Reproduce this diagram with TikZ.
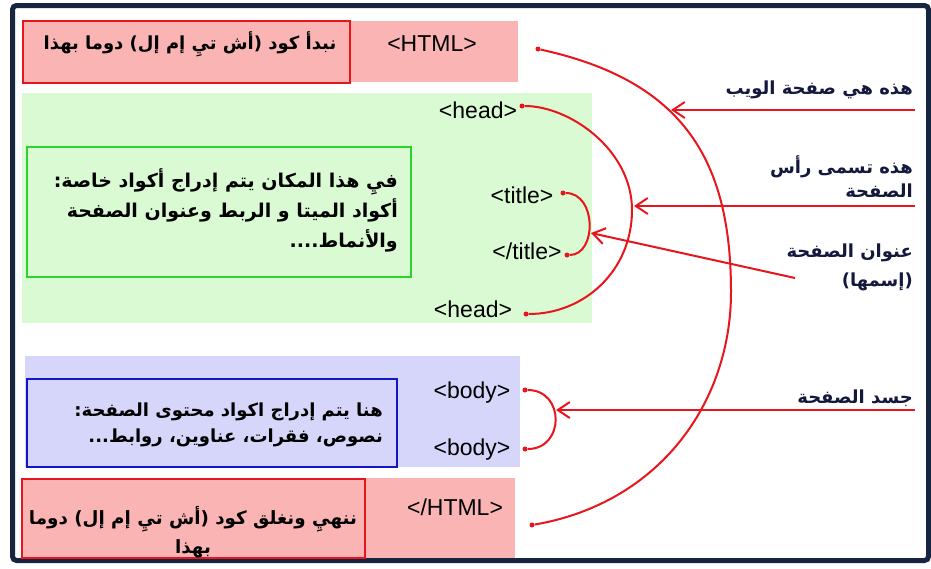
\documentclass[tikz,border=0pt]{standalone}
\usepackage{fontspec}
\setmainfont{Liberation Sans}
\newfontfamily\arabicfont[Script=Arabic]{DejaVu Sans}
\TeXXeTstate=1
\usetikzlibrary{arrows.meta}

\definecolor{framenavy}{RGB}{22,38,64}
\definecolor{htmlpink}{RGB}{250,180,180}
\definecolor{headgreen}{RGB}{217,250,210}
\definecolor{bodyblue}{RGB}{214,214,250}
\definecolor{arcred}{RGB}{232,22,28}
\definecolor{boxgreen}{RGB}{45,210,45}
\definecolor{boxblue}{RGB}{20,20,200}
\definecolor{textnavy}{RGB}{20,24,60}

\tikzset{
  tag/.style={font=\fontsize{23}{27}\selectfont, inner sep=0pt},
  note/.style={font=\arabicfont\bfseries\fontsize{18}{29}\selectfont, text=textnavy, align=right, inner sep=0pt},
  dot/.style={circle, fill=arcred, inner sep=0pt, minimum size=5pt},
  link/.style={arcred, line width=2pt},
  pointer/.style={link, -{Straight Barb[length=12pt,width=16pt]}},
}

\begin{document}
\begin{tikzpicture}[x=1pt,y=-1pt]
\useasboundingbox (0,0) rectangle (931,568);
\fill[white] (0,0) rectangle (931,568);
\draw[framenavy, line width=5pt, rounded corners=4pt] (12.5,5.5) rectangle (928.5,560.5);

\fill[htmlpink] (22,21) rectangle (518,82);
\fill[headgreen] (22,93) rectangle (592,323);
\fill[bodyblue] (25,356) rectangle (520,467);
\fill[htmlpink] (22,478) rectangle (515,558);
\draw[arcred, line width=2pt] (23,21) rectangle (350,83);
\draw[boxgreen, line width=2pt] (27,147) rectangle (411,277);
\draw[boxblue, line width=2pt] (27,379) rectangle (397,467);
\draw[arcred, line width=2pt] (22,479) rectangle (365,558);

\node[note, text=black] (starttxt) at (190,44) {\beginR نبدأ كود (أش تيِ إم إل) دوما بهذا\endR};
\node[note, text=black, anchor=east, font=\arabicfont\bfseries\fontsize{19}{30}\selectfont] (headtxt) at (398,210) {\beginR فيِ هذا المكان يتم إدراج أكواد خاصة:\endR\\\beginR أكواد الميتا و الربط وعنوان الصفحة\endR\\\beginR والأنماط....\endR};
\node[note, text=black, anchor=east, font=\arabicfont\bfseries\fontsize{18}{26}\selectfont] (bodytxt) at (383,425) {\beginR هنا يتم إدراج اكواد محتوى الصفحة:\endR\\\beginR نصوص، فقرات، عناوين، روابط...\endR};
\node[note, text=black, align=center, font=\arabicfont\bfseries\fontsize{18.3}{29}\selectfont] (endtxt) at (193,532) {\beginR ننهيِ ونغلق كود (أش تيِ إم إل) دوما\endR\\\beginR بهذا\endR};

\node[tag] (htmlopen) at (432,44) {<HTML>};
\node[tag] (headopen) at (478,110) {<head>};
\node[tag] (titleopen) at (522,195) {<title>};
\node[tag] (titleclose) at (527,251) {</title>};
\node[tag] (headclose) at (473,309) {<head>};
\node[tag] (bodyopen) at (472,393) {<body>};
\node[tag] (bodyclose) at (472,450) {<body>};
\node[tag] (htmlclose) at (455,507) {</HTML>};

\node[dot] (htmla) at (538,49) {};
\node[dot] (htmlb) at (532,525) {};
\node[dot] (heada) at (522,106) {};
\node[dot] (headb) at (526,314) {};
\node[dot] (titlea) at (563,193) {};
\node[dot] (titleb) at (567,255) {};
\node[dot] (bodya) at (525,390) {};
\node[dot] (bodyb) at (525,449) {};

\draw[link] (htmla) .. controls (685,81) and (731,162) .. (731,292) .. controls (731,402) and (660,503) .. (htmlb);
\draw[link] (heada) .. controls (570,106) and (632,150) .. (632,210) .. controls (632,270) and (585,314) .. (headb);
\draw[link] (titlea) .. controls (597,193) and (597,255) .. (titleb);
\draw[link] (bodya) .. controls (565,390) and (565,449) .. (bodyb);

\node[note, anchor=east] (weblbl) at (913,90) {\beginR هذه هي صفحة الويب\endR};
\node[note, anchor=east, font=\arabicfont\bfseries\fontsize{18}{24}\selectfont] (headlbl) at (913,177) {\beginR هذه تسمى رأس\endR\\\beginR الصفحة\endR};
\node[note, anchor=east] (titlelbl) at (913,267) {\beginR عنوان الصفحة\endR\\\beginR (إسمها)\endR};
\node[note, anchor=east] (bodylbl) at (913,398) {\beginR جسد الصفحة\endR};

\coordinate (webfrom) at (915,110);
\coordinate (webto) at (671,110);
\coordinate (headfrom) at (915,206);
\coordinate (headto) at (634,206);
\coordinate (titlefrom) at (795,278);
\coordinate (titleto) at (591,233);
\coordinate (bodyfrom) at (915,410);
\coordinate (bodyto) at (556,410);
\draw[pointer] (webfrom) -- (webto);
\draw[pointer] (headfrom) -- (headto);
\draw[pointer] (titlefrom) -- (titleto);
\draw[pointer] (bodyfrom) -- (bodyto);
\end{tikzpicture}
\end{document}
